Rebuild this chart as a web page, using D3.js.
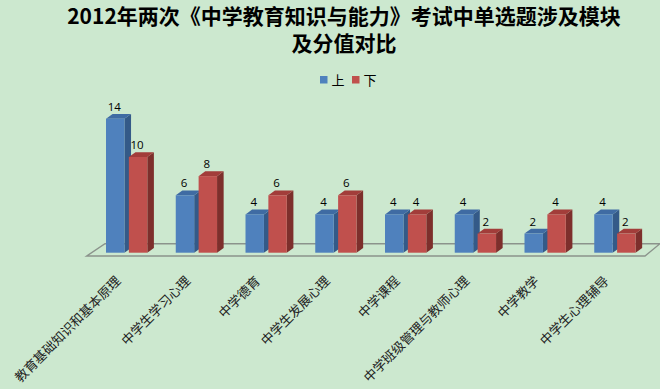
<!DOCTYPE html>
<html><head><meta charset="utf-8">
<script src="https://cdnjs.cloudflare.com/ajax/libs/d3/7.8.5/d3.min.js"></script>
<style>html,body{margin:0;padding:0;background:#cce8cf;overflow:hidden}svg{display:block}</style>
</head><body><svg id="c" width="660" height="389"></svg>
<script>
const categories = ["教育基础知识和基本原理","中学生学习心理","中学德育","中学生发展心理","中学课程","中学班级管理与教师心理","中学教学","中学生心理辅导"];
const seriesNames = ["上","下"];
const valuesUpper = [14,6,4,4,4,4,2,4];
const valuesLower = [10,8,6,6,4,2,4,2];
const titleLines = ["2012年两次《中学教育知识与能力》考试中单选题涉及模块","及分值对比"];
const frontColors = ["#4f81bd","#c0504d"];
const topColors = ["#3f6ba3","#a23d3a"];
const sideColors = ["#345a88","#7d2f2c"];

const svg = d3.select("#c");
const W = 660, H = 389, dx = 6.6, dy = 4.8;
const cjk = "'Noto Sans CJK SC','Noto Sans',sans-serif";

svg.append("rect").attr("width",W).attr("height",H).attr("fill","#cce8cf");

const x0 = d3.scaleBand().domain(categories).range([91.8,649.8]);
const x1 = d3.scaleBand().domain(seriesNames).range([14.2,55.5]).paddingInner(0.194);
const y = d3.scaleLinear().domain([0,14]).range([252.7,118.7]);

// floor
const fy = y(0);
svg.append("path")
  .attr("d",`M${x0.range()[0]-5.1},${fy+3.3}H${x0.range()[1]-4.8}L${W},${fy-9}H${x0.range()[0]+13.2}Z`)
  .attr("fill","none").attr("stroke","#8b938c").attr("stroke-width",1.4);

// bars
const rows = categories.map((c,i)=>({c,vals:[valuesUpper[i],valuesLower[i]]}));
const g = svg.append("g").selectAll("g").data(rows).join("g")
  .attr("transform",d=>`translate(${x0(d.c)},0)`);
const bar = g.selectAll("g").data(d=>d.vals.map((v,k)=>({v,k,s:seriesNames[k]}))).join("g");
const bw = x1.bandwidth();
bar.append("path").attr("fill",d=>sideColors[d.k])
  .attr("d",d=>{const a=x1(d.s)+bw,t=y(d.v),b=y(0);return `M${a},${t}L${a+dx},${t-dy}V${b-dy}L${a},${b}Z`;});
bar.append("path").attr("fill",d=>topColors[d.k])
  .attr("d",d=>{const a=x1(d.s),t=y(d.v);return `M${a},${t}L${a+dx},${t-dy}H${a+bw+dx}L${a+bw},${t}Z`;});
bar.append("rect").attr("fill",d=>frontColors[d.k])
  .attr("x",d=>x1(d.s)).attr("y",d=>y(d.v)).attr("width",bw).attr("height",d=>y(0)-y(d.v));
bar.append("text").text(d=>d.v)
  .attr("x",d=>x1(d.s)+bw/2-1).attr("y",d=>y(d.v)-8)
  .attr("text-anchor","middle").attr("font-family","'Open Sans',sans-serif").attr("font-size",11.5).attr("fill","#000");

// category labels
svg.append("g").selectAll("text").data(categories).join("text")
  .text(d=>d)
  .attr("transform",d=>`translate(${x0(d)+x0.bandwidth()/2-9},278) rotate(-45)`)
  .attr("text-anchor","end").attr("dominant-baseline","central")
  .attr("font-family",cjk).attr("font-size",13).attr("fill","#222");

// title
const title = svg.append("text").attr("text-anchor","middle").attr("font-family",cjk)
  .attr("font-weight",700).attr("font-size",21).attr("fill","#000");
title.selectAll("tspan").data(titleLines).join("tspan")
  .text(d=>d).attr("x",344).attr("y",(d,i)=>24+i*27);

// legend
const legendX = d3.scalePoint().domain(seriesNames).range([320,352]);
const lg = svg.append("g").selectAll("g").data(seriesNames).join("g")
  .attr("transform",d=>`translate(${legendX(d)},76)`);
lg.append("rect").attr("width",7.5).attr("height",7.5).attr("fill",(d,i)=>frontColors[i]);
lg.append("text").text(d=>d).attr("x",11.5).attr("y",9)
  .attr("font-family",cjk).attr("font-size",13).attr("fill","#000");
</script></body></html>
